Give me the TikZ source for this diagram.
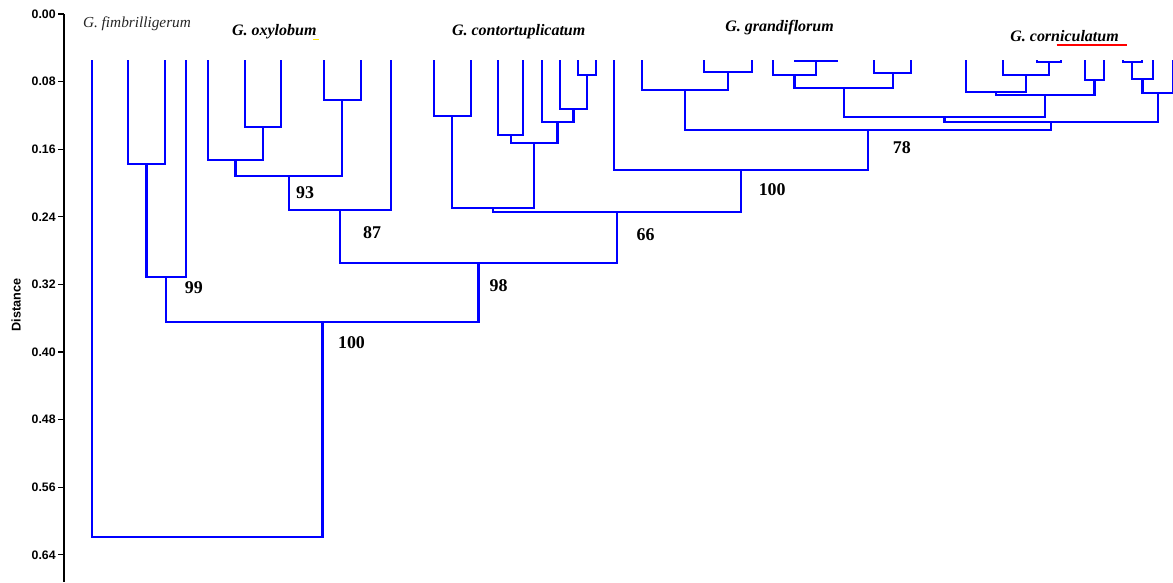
\documentclass[tikz,border=0pt]{standalone}
\usepackage{fontspec}
\setmainfont{Liberation Serif}
\newfontfamily\axisfont{Liberation Sans}

\begin{document}
\begin{tikzpicture}[x=0.02cm, y=-0.02cm,
    br/.style={draw=blue, line width=1.3pt},
    sp/.style={font=\fontsize{9.1}{10}\selectfont\bfseries\itshape, anchor=base west, inner sep=0pt},
    bs/.style={font=\fontsize{10.2}{12}\selectfont\bfseries, inner sep=0pt},
    tk/.style={font=\axisfont\bfseries\fontsize{7}{8}\selectfont, anchor=east, inner sep=0pt}]

    \useasboundingbox (0,0) rectangle (1173,582);

    % Distance axis
    \draw[line width=0.75pt] (64,14) -- (64,582);
    \foreach \v [count=\i from 0] in {0.00,0.08,0.16,0.24,0.32,0.40,0.48,0.56,0.64} {
        \draw[line width=0.6pt] (58,14+67.6*\i) -- (64,14+67.6*\i);
        \node[tk] (tk\i) at (56,14+67.6*\i) {\v};
    }
    \node[font=\axisfont\bfseries\fontsize{7.2}{8}\selectfont, rotate=90, inner sep=0pt] (dist) at (16,305) {Distance};

    % Define leaves
    \foreach \n/\x in {1/92, 2/128.3, 3/165, 4/186, 5/208, 6/245, 7/281, 8/324, 9/360.7, 10/390.7,
        11/434, 12/470.7, 13/498.3, 14/523.3, 15/541.7, 16/560, 17/578.3, 18/596, 19/614.3,
        20/642, 21/704, 22/752.3, 23/773, 24/795, 25/837.3, 26/874.3, 27/911,
        28/966, 29/1003.3, 30/1036.7, 31/1060.7, 32/1085, 33/1104, 34/1122.7, 35/1141.7, 36/1152.7, 37/1173.5}
        \coordinate (l\n) at (\x,60);

    % Define joins
    \coordinate (n23) at (146.6,164);
    \coordinate (n99) at (166.3,277);
    \coordinate (n67) at (263,127);
    \coordinate (n57) at (235.5,160);
    \coordinate (n89) at (342.3,100);
    \coordinate (n93) at (288.9,175.7);
    \coordinate (n87) at (339.8,210);
    \coordinate (n1112) at (452.3,116);
    \coordinate (n1314) at (510.8,134.7);
    \coordinate (n1718) at (587.2,75.3);
    \coordinate (n1618) at (573.6,109.3);
    \coordinate (n1518) at (557.6,122);
    \coordinate (n1318) at (534.2,143.3);
    \coordinate (nct) at (493.2,208);
    \coordinate (n2122) at (728.2,71.7);
    \coordinate (n2022) at (685.1,90.3);
    \coordinate (n2425) at (816.2,61);
    \coordinate (n2325) at (794.6,75);
    \coordinate (n2627) at (892.7,72.7);
    \coordinate (n2327) at (843.7,87.7);
    \coordinate (n3031) at (1048.7,61.7);
    \coordinate (n2931) at (1026,75);
    \coordinate (n2831) at (996,91.7);
    \coordinate (n3233) at (1094.5,80);
    \coordinate (n2833) at (1045.3,95);
    \coordinate (n2333) at (944.5,117.3);
    \coordinate (n3435) at (1132.2,61.7);
    \coordinate (n3436) at (1142.5,79.3);
    \coordinate (n3437) at (1158,92.7);
    \coordinate (n2337) at (1051.3,121.7);
    \coordinate (n78) at (868.2,130);
    \coordinate (n100b) at (741.3,170.3);
    \coordinate (n66) at (617.3,212);
    \coordinate (n98) at (478.5,263);
    \coordinate (n100a) at (322.4,321.7);
    \coordinate (root) at (207.2,536.7);

    % Draw branches
    \draw[br] (l2) |- (n23) -| (l3);
    \draw[br] (n23) |- (n99) -| (l4);
    \draw[br] (l6) |- (n67) -| (l7);
    \draw[br] (l5) |- (n57) -| (n67);
    \draw[br] (l8) |- (n89) -| (l9);
    \draw[br] (n57) |- (n93) -| (n89);
    \draw[br] (n93) |- (n87) -| (l10);
    \draw[br] (l11) |- (n1112) -| (l12);
    \draw[br] (l13) |- (n1314) -| (l14);
    \draw[br] (l17) |- (n1718) -| (l18);
    \draw[br] (l16) |- (n1618) -| (n1718);
    \draw[br] (l15) |- (n1518) -| (n1618);
    \draw[br] (n1314) |- (n1318) -| (n1518);
    \draw[br] (n1112) |- (nct) -| (n1318);
    \draw[br] (l21) |- (n2122) -| (l22);
    \draw[br] (l20) |- (n2022) -| (n2122);
    \draw[br] (l24) |- (n2425) -| (l25);
    \draw[br] (l23) |- (n2325) -| (n2425);
    \draw[br] (l26) |- (n2627) -| (l27);
    \draw[br] (n2325) |- (n2327) -| (n2627);
    \draw[br] (l30) |- (n3031) -| (l31);
    \draw[br] (l29) |- (n2931) -| (n3031);
    \draw[br] (l28) |- (n2831) -| (n2931);
    \draw[br] (l32) |- (n3233) -| (l33);
    \draw[br] (n2831) |- (n2833) -| (n3233);
    \draw[br] (n2327) |- (n2333) -| (n2833);
    \draw[br] (l34) |- (n3435) -| (l35);
    \draw[br] (n3435) |- (n3436) -| (l36);
    \draw[br] (n3436) |- (n3437) -| (l37);
    \draw[br] (n2333) |- (n2337) -| (n3437);
    \draw[br] (n2022) |- (n78) -| (n2337);
    \draw[br] (l19) |- (n100b) -| (n78);
    \draw[br] (nct) |- (n66) -| (n100b);
    \draw[br] (n87) |- (n98) -| (n66);
    \draw[br] (n99) |- (n100a) -| (n98);
    \draw[br] (l1) |- (root) -| (n100a);

    % Bootstrap values
    \node[bs] (b99) at (193.8,287.5) {99};
    \node[bs] (b93) at (305,192.5) {93};
    \node[bs] (b87) at (372.2,232.5) {87};
    \node[bs] (b98) at (498.7,285.5) {98};
    \node[bs] (b100a) at (351.5,342.2) {100};
    \node[bs] (b66) at (645.5,234.5) {66};
    \node[bs] (b100b) at (772.2,189.7) {100};
    \node[bs] (b78) at (901.8,147.5) {78};

    % Species names
    \node[sp, font=\fontsize{8.7}{10}\selectfont\itshape, text=black!85] (fim) at (82.7,27.5) {G. fimbrilligerum};
    \node[sp] (oxy) at (231.7,35) {G. oxylobum};
    \node[sp] (con) at (451.7,35) {G. contortuplicatum};
    \node[sp] (gra) at (725,31.5) {G. grandiflorum};
    \node[sp] (cor) at (1010,41.5) {G. corniculatum};
    \draw[yellow!90!orange, line width=0.8pt] (313.3,39.3) -- (319.3,39.3);
    \draw[red, line width=0.9pt] (1056.7,45) -- (1126.7,45);
\end{tikzpicture}
\end{document}
